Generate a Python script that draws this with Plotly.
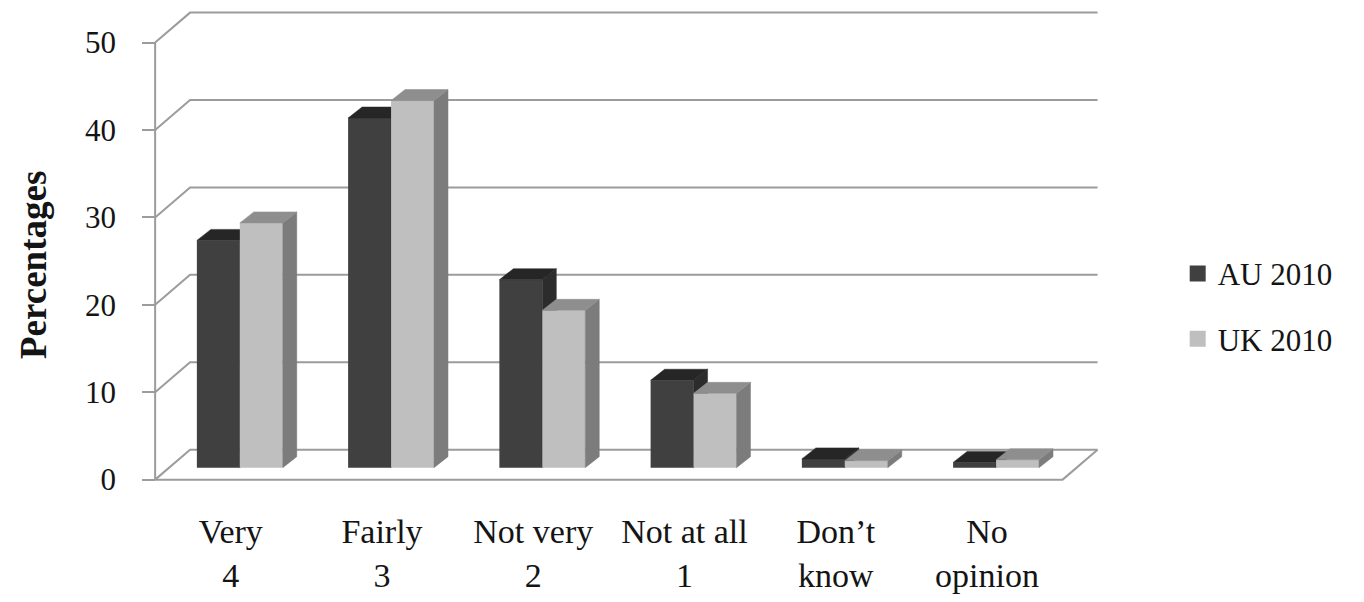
import plotly.graph_objects as go

# ---- data ----
categories = ["Very<br>4", "Fairly<br>3", "Not very<br>2", "Not at all<br>1", "Don’t<br>know", "No<br>opinion"]
au_2010 = [26, 40, 21.5, 10, 1.0, 0.6]
uk_2010 = [28, 42, 18, 8.5, 0.8, 0.9]
y_ticks = [0, 10, 20, 30, 40, 50]
series_names = ["AU 2010", "UK 2010"]

# ---- pseudo-3D geometry (in axis units) ----
WALL_DX, WALL_DY = 0.231, 3.43      # depth of floor / back wall
BAR_DX, BAR_DY = 0.0925, 1.26       # depth of each column
BAR_BASE = 1.37                     # columns stand part-way back on the floor
BAR_W = 0.284
PAIR_CENTER = 0.56
X_RANGE = [-0.1, 6.3]
Y_RANGE = [-0.5, 53.73]

FONT = "Liberation Serif"
TXT = "#141414"
GRID = "#9c9c9c"

styles = {
    "AU 2010": dict(front="#404040", top="#262626", side="#2c2c2c"),
    "UK 2010": dict(front="#bfbfbf", top="#8e8e8e", side="#7c7c7c"),
}

n = len(categories)
fig = go.Figure()

# back wall gridlines with the diagonal left-wall strokes
gx, gy = [], []
for v in y_ticks:
    gx += [0, WALL_DX, n + WALL_DX, None]
    gy += [v, v + WALL_DY, v + WALL_DY, None]
# floor: front and right edges, plus the front vertical axis line
gx += [0, n, n + WALL_DX, None, 0, 0, None]
gy += [0, 0, WALL_DY, None, 0, y_ticks[-1], None]
fig.add_trace(go.Scatter(x=gx, y=gy, mode="lines", line=dict(color=GRID, width=2),
                         hoverinfo="skip", showlegend=False, xaxis="x", yaxis="y"))


def add_series(values, name, shift, xa, ya):
    st = styles[name]
    xs = [i + PAIR_CENTER + shift for i in range(n)]
    # side and top faces
    sx, sy, tx, ty = [], [], [], []
    for xc, v in zip(xs, values):
        xl, xr = xc - BAR_W / 2, xc + BAR_W / 2
        t = BAR_BASE + v
        sx += [xr, xr + BAR_DX, xr + BAR_DX, xr, xr, None]
        sy += [BAR_BASE, BAR_BASE + BAR_DY, t + BAR_DY, t, BAR_BASE, None]
        tx += [xl, xl + BAR_DX, xr + BAR_DX, xr, xl, None]
        ty += [t, t + BAR_DY, t + BAR_DY, t, t, None]
    fig.add_trace(go.Bar(x=xs, y=values, base=BAR_BASE, width=BAR_W, name=name,
                         marker=dict(color=st["front"], line=dict(width=0)),
                         showlegend=False, xaxis=xa, yaxis=ya))
    fig.add_trace(go.Scatter(x=sx, y=sy, mode="lines", fill="toself",
                             fillcolor=st["side"], line=dict(color=st["side"], width=0.5),
                             hoverinfo="skip", showlegend=False, xaxis=xa, yaxis=ya))
    fig.add_trace(go.Scatter(x=tx, y=ty, mode="lines", fill="toself",
                             fillcolor=st["top"], line=dict(color=st["top"], width=0.5),
                             hoverinfo="skip", showlegend=False, xaxis=xa, yaxis=ya))
    # legend entry
    fig.add_trace(go.Scatter(x=[None], y=[None], mode="markers", name=name,
                             legendgroup=name,
                             marker=dict(symbol="square", size=16, color=st["front"]),
                             xaxis=xa, yaxis=ya))


add_series(au_2010, "AU 2010", -BAR_W / 2, "x2", "y2")
add_series(uk_2010, "UK 2010", BAR_W / 2, "x3", "y3")

hidden = dict(range=X_RANGE, visible=False, fixedrange=True, automargin=False)
hidden_y = dict(range=Y_RANGE, visible=False, fixedrange=True, automargin=False)

fig.update_layout(
    width=1364, height=602,
    margin=dict(l=140, r=256, t=10, b=118, autoexpand=False),
    paper_bgcolor="white", plot_bgcolor="rgba(0,0,0,0)",
    barmode="overlay",
    font=dict(family=FONT, size=32, color=TXT),
    xaxis=dict(range=X_RANGE, tickvals=[i + 0.5 for i in range(n)], ticktext=categories,
               ticks="outside", ticklen=17, tickcolor="rgba(0,0,0,0)",
               showgrid=False, zeroline=False, showline=False, automargin=False,
               tickfont=dict(family=FONT, size=34, color=TXT)),
    yaxis=dict(range=Y_RANGE, tickvals=y_ticks, anchor="free",
               position=(0 - X_RANGE[0]) / (X_RANGE[1] - X_RANGE[0]),
               ticks="outside", ticklen=13, tickwidth=2, tickcolor=GRID,
               ticklabelstandoff=20, automargin=False,
               showgrid=False, zeroline=False, showline=False,
               tickfont=dict(family=FONT, size=31, color=TXT)),
    xaxis2=dict(overlaying="x", anchor="y2", **hidden),
    yaxis2=dict(overlaying="y", anchor="x2", **hidden_y),
    xaxis3=dict(overlaying="x", anchor="y3", **hidden),
    yaxis3=dict(overlaying="y", anchor="x3", **hidden_y),
    legend=dict(x=1.072, y=0.375, xanchor="left", yanchor="middle",
                font=dict(family=FONT, size=31, color=TXT),
                tracegroupgap=22, traceorder="grouped", bgcolor="rgba(0,0,0,0)"),
    annotations=[dict(text="<b>Percentages</b>", textangle=-90, showarrow=False,
                      xref="paper", yref="paper", x=(33 - 140) / 968, y=0.462,
                      xanchor="center", yanchor="middle",
                      font=dict(family=FONT, size=37, color=TXT))],
)

fig.write_html("out.html")
